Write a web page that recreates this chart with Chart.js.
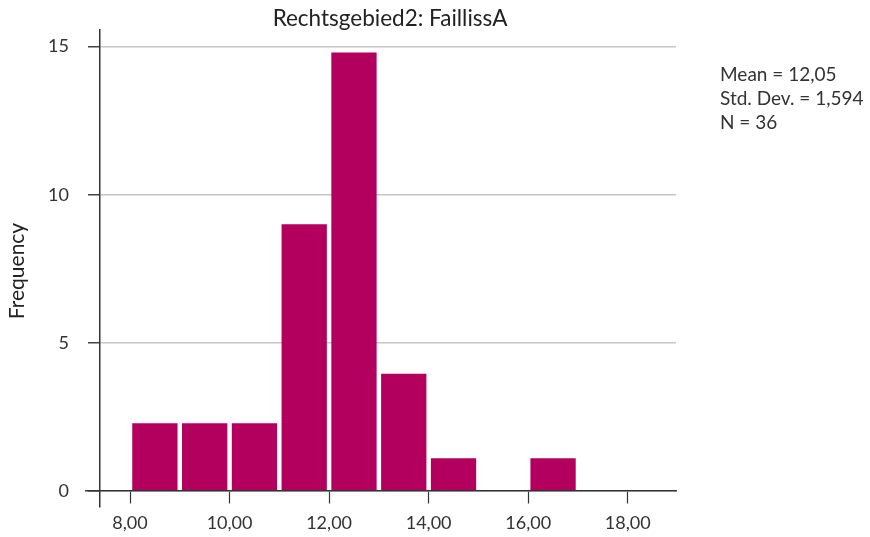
<!DOCTYPE html>
<html>
<head>
<meta charset="utf-8">
<script src="https://cdn.jsdelivr.net/npm/chart.js@4.4.1/dist/chart.umd.min.js"></script>
<style>
  html, body { margin: 0; padding: 0; background: #fff; }
  #wrap { width: 870px; height: 537px; }
</style>
</head>
<body>
<div id="wrap"><canvas id="histChart" width="870" height="537"></canvas></div>
<script>
// histogram bins (left edges, width 1) and frequencies
const binStarts = [8, 9, 10, 11, 12, 13, 14, 15, 16, 17];
const frequencies = [2.28, 2.28, 2.28, 9, 14.8, 3.95, 1.1, 0, 1.1, 0];
const xTicks = [8, 10, 12, 14, 16, 18];
const yTicks = [0, 5, 10, 15];
const statLines = ['Mean = 12,05', 'Std. Dev. = 1,594', 'N = 36'];
const chartTitle = 'Rechtsgebied2: FaillissA';
const yTitle = 'Frequency';

const FONT = 'Lato, "Open Sans", sans-serif';
const TEXT = '#333333';
const BAR = '#b3005e';
const AXIS = '#333333';

// title, y title, stats box and the short stub of the x axis left of the y axis
const extraText = {
    id: 'extraText',
    afterDraw(chart) {
        const ctx = chart.ctx;
        const area = chart.chartArea;
        const y0 = chart.scales.y.getPixelForValue(0);
        ctx.save();
        ctx.strokeStyle = AXIS;
        ctx.lineWidth = 1.5;
        ctx.beginPath();
        ctx.moveTo(area.left - 15, y0);
        ctx.lineTo(area.left, y0);
        ctx.stroke();

        ctx.fillStyle = '#222';
        ctx.textAlign = 'center';
        ctx.textBaseline = 'middle';
        ctx.font = '22.5px ' + FONT;
        ctx.fillText(chartTitle, (area.left + area.right) / 2 + 2, 19);

        ctx.save();
        ctx.translate(17, 271);
        ctx.rotate(-Math.PI / 2);
        ctx.font = '21px ' + FONT;
        ctx.fillText(yTitle, 0, 0);
        ctx.restore();

        ctx.fillStyle = TEXT;
        ctx.textAlign = 'left';
        ctx.font = '19px ' + FONT;
        statLines.forEach((s, i) => ctx.fillText(s, area.right + 44, 75 + i * 24));
        ctx.restore();
    }
};

new Chart(document.getElementById('histChart'), {
    type: 'bar',
    data: {
        datasets: [{
            data: binStarts.map((b, i) => ({ x: b + 0.5, y: frequencies[i] })),
            backgroundColor: BAR,
            borderWidth: 0,
            categoryPercentage: 1,
            barPercentage: 0.91
        }]
    },
    options: {
        responsive: false,
        animation: false,
        layout: { padding: { left: 30, right: 194, top: 27, bottom: 29 } },
        plugins: { legend: { display: false }, tooltip: { enabled: false } },
        scales: {
            x: {
                type: 'linear',
                position: { y: 0 },
                offset: false,
                min: 7.397,
                max: 18.97,
                afterBuildTicks: s => { s.ticks = xTicks.map(v => ({ value: v })); },
                grid: { offset: false, drawOnChartArea: false, tickLength: 12, tickColor: AXIS, tickWidth: 1.2 },
                border: { color: AXIS, width: 1.5 },
                ticks: {
                    color: TEXT,
                    padding: 10,
                    font: { family: FONT, size: 18 },
                    callback: v => v.toFixed(2).replace('.', ',')
                }
            },
            y: {
                type: 'linear',
                position: 'left',
                min: -0.553,
                max: 15.57,
                afterBuildTicks: s => { s.ticks = yTicks.map(v => ({ value: v })); },
                afterFit: s => { s.width = 70; },
                grid: { color: '#c4c4c4', lineWidth: 1.5, tickLength: 12, tickColor: '#444', tickWidth: 1.5 },
                border: { color: AXIS, width: 1.5 },
                ticks: {
                    color: TEXT,
                    padding: 19,
                    font: { family: FONT, size: 18 }
                }
            }
        }
    },
    plugins: [extraText]
});
</script>
</body>
</html>
